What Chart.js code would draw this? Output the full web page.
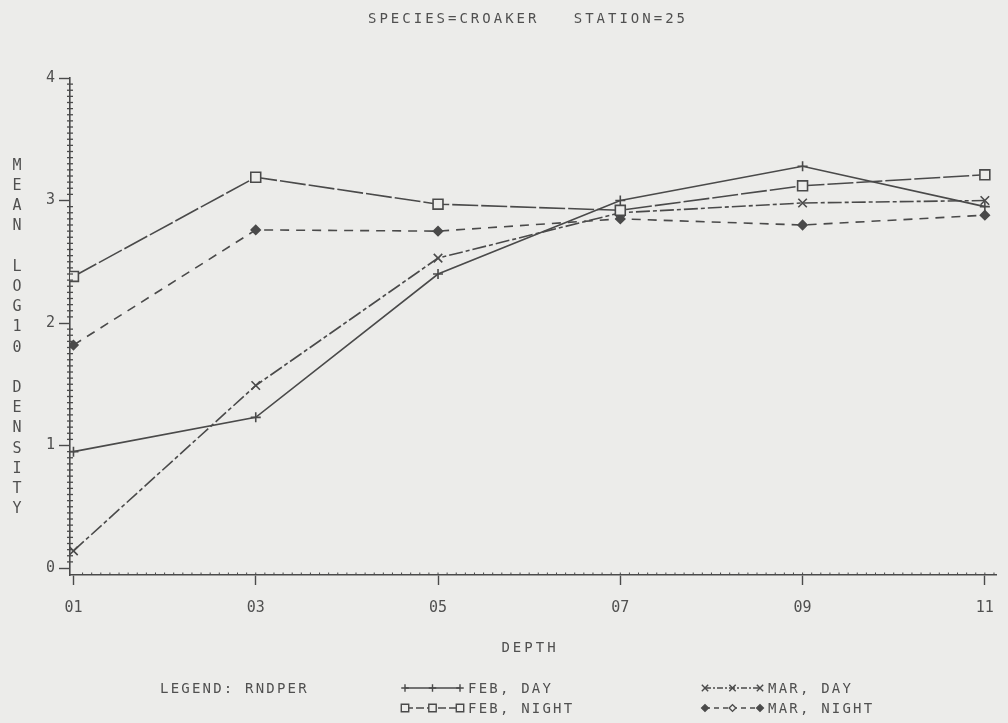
<!DOCTYPE html>
<html>
<head>
<meta charset="utf-8">
<script src="https://cdn.jsdelivr.net/npm/chart.js@4.4.1/dist/chart.umd.min.js"></script>
<style>
  html, body { margin: 0; padding: 0; background: #ececea; }
  #wrap { width: 1008px; height: 723px; position: relative; }
</style>
</head>
<body>
<div id="wrap"><canvas id="c" width="1008" height="723"></canvas></div>
<script>
// ---- data ----
const titleText = 'SPECIES=CROAKER   STATION=25';
const xTitle = 'DEPTH';
const yTitle = 'MEAN LOG10 DENSITY';
const categories = ['01', '03', '05', '07', '09', '11'];
const depthValues = [1, 3, 5, 7, 9, 11];
const yTickValues = [0, 1, 2, 3, 4];
const yTickLabels = ['0', '1', '2', '3', '4'];
const febDay   = [0.95, 1.23, 2.40, 3.00, 3.28, 2.95];
const febNight = [2.38, 3.19, 2.97, 2.92, 3.12, 3.21];
const marDay   = [0.14, 1.49, 2.53, 2.90, 2.98, 3.00];
const marNight = [1.82, 2.76, 2.75, 2.85, 2.80, 2.88];
const legendTitle = 'LEGEND: RNDPER';
const seriesNames = ['FEB, DAY', 'FEB, NIGHT', 'MAR, DAY', 'MAR, NIGHT'];

// ---- styles ----
const INK = '#4a4a4a';
const TEXT = '#505050';
const BG = '#ececea';
const FONT = '"DejaVu Sans Mono", monospace';

const styles = [
  { pointStyle: 'cross',    radius: 5,   dash: [],              fill: BG },
  { pointStyle: 'rect',     radius: 7,   dash: [26, 3],         fill: BG },
  { pointStyle: 'crossRot', radius: 6,   dash: [14, 3, 4, 3],   fill: BG },
  { pointStyle: 'rectRot',  radius: 4.5, dash: [9, 7],          fill: INK }
];
const seriesData = [febDay, febNight, marDay, marNight];

const datasets = seriesData.map((vals, i) => ({
  label: seriesNames[i],
  data: vals.map((v, k) => ({ x: depthValues[k], y: v })),
  borderColor: INK,
  borderWidth: 1.6,
  borderDash: styles[i].dash,
  pointStyle: styles[i].pointStyle,
  pointRadius: styles[i].radius,
  pointBorderColor: INK,
  pointBackgroundColor: styles[i].fill,
  pointBorderWidth: 1.6,
  tension: 0,
  fill: false
}));

function spacedText(ctx, txt, x, y, spacing, align) {
  ctx.save();
  try { ctx.letterSpacing = spacing + 'px'; } catch (e) {}
  ctx.textAlign = align || 'left';
  ctx.fillText(txt, x, y);
  ctx.restore();
}

const decor = {
  id: 'decor',
  beforeDraw(chart) {
    const ctx = chart.ctx;
    ctx.save();
    ctx.fillStyle = BG;
    ctx.fillRect(0, 0, chart.width, chart.height);
    ctx.restore();
  },
  afterDraw(chart) {
    const ctx = chart.ctx;
    const xs = chart.scales.x, ys = chart.scales.y;
    const ca = chart.chartArea;
    ctx.save();
    // minor ticks on y axis
    ctx.strokeStyle = INK;
    ctx.lineWidth = 1.3;
    for (let k = 1; k < 80; k++) {
      if (k % 20 === 0) continue;
      const py = ys.getPixelForValue(k * 0.05);
      ctx.beginPath();
      ctx.moveTo(ca.left - 3, py);
      ctx.lineTo(ca.left + 3, py);
      ctx.stroke();
    }
    // minor ticks on x axis
    ctx.lineWidth = 1;
    for (let v = 1.1; v < 11.1; v += 0.1) {
      const px = xs.getPixelForValue(v);
      if (px > ca.right) break;
      ctx.beginPath();
      ctx.moveTo(px, ca.bottom - 2.5);
      ctx.lineTo(px, ca.bottom);
      ctx.stroke();
    }
    // title
    ctx.fillStyle = TEXT;
    ctx.textBaseline = 'middle';
    ctx.font = '14px ' + FONT;
    spacedText(ctx, titleText, 528, 19, 3, 'center');
    // x title
    spacedText(ctx, xTitle, 530, 648, 3, 'center');
    // y title stacked letters
    ctx.font = '15px ' + FONT;
    ctx.textAlign = 'center';
    const letters = yTitle.split('');
    letters.forEach((ch, i) => {
      if (ch !== ' ') ctx.fillText(ch, 17, 166 + i * 20.2);
    });
    // legend
    ctx.font = '14px ' + FONT;
    spacedText(ctx, legendTitle, 160, 689, 2.2, 'left');
    const cols = [[405, 688], [405, 708], [705, 688], [705, 708]];
    for (let i = 0; i < 4; i++) {
      const [lx, ly] = cols[i];
      ctx.save();
      ctx.strokeStyle = INK;
      ctx.lineWidth = 1.4;
      ctx.setLineDash(i === 0 ? [] : (i === 1 ? [8, 3] : (i === 2 ? [6, 2, 2, 2] : [5, 4])));
      ctx.beginPath();
      ctx.moveTo(lx, ly);
      ctx.lineTo(lx + 55, ly);
      ctx.stroke();
      ctx.setLineDash([]);
      const r = styles[i].radius * 0.75;
      [0, 27.5, 55].forEach((dx, j) => {
        ctx.fillStyle = (i === 3 && j !== 1) ? INK : BG;
        ctx.strokeStyle = INK;
        Chart.helpers.drawPoint(ctx, {
          pointStyle: styles[i].pointStyle,
          radius: r,
          rotation: 0,
          borderWidth: 1.3
        }, lx + dx, ly);
      });
      ctx.restore();
      ctx.fillStyle = TEXT;
      spacedText(ctx, seriesNames[i], lx + 63, ly + 1, 2.2, 'left');
    }
    ctx.restore();
  }
};

new Chart(document.getElementById('c'), {
  type: 'line',
  data: { datasets },
  plugins: [decor],
  options: {
    responsive: false,
    animation: false,
    devicePixelRatio: 1,
    layout: { padding: { left: 0, top: 78, right: 2, bottom: 0 } },
    plugins: { legend: { display: false }, title: { display: false }, tooltip: { enabled: false } },
    scales: {
      x: {
        type: 'linear',
        min: 0.962,
        max: 11.13,
        afterBuildTicks(scale) { scale.ticks = depthValues.map(v => ({ value: v })); },
        afterFit(scale) { scale.height = 723 - 575; },
        border: { display: true, color: INK, width: 1.6 },
        grid: { drawOnChartArea: false, drawTicks: true, tickLength: 10, tickColor: INK, tickWidth: 1.4 },
        ticks: {
          autoSkip: false,
          maxRotation: 0,
          padding: 14,
          color: TEXT,
          font: { family: FONT, size: 15 },
          callback(v) { const i = depthValues.indexOf(v); return i >= 0 ? categories[i] : ''; }
        }
      },
      y: {
        type: 'linear',
        min: -0.057,
        max: 4,
        afterBuildTicks(scale) { scale.ticks = yTickValues.map(v => ({ value: v })); },
        afterFit(scale) { scale.width = 70; },
        border: { display: true, color: INK, width: 1.6 },
        grid: { drawOnChartArea: false, drawTicks: true, tickLength: 11, tickColor: INK, tickWidth: 1.4 },
        ticks: {
          autoSkip: false,
          padding: 4,
          color: TEXT,
          font: { family: FONT, size: 15 },
          callback(v) { const i = yTickValues.indexOf(v); return i >= 0 ? yTickLabels[i] : ''; }
        }
      }
    }
  }
});
</script>
</body>
</html>
